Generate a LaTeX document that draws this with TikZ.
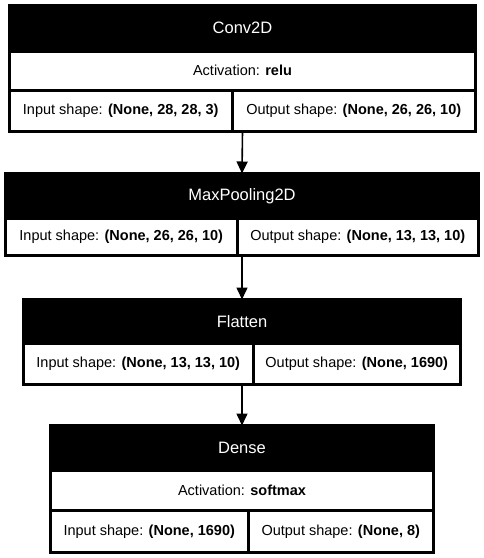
\documentclass[tikz,border=0pt]{standalone}
\usepackage{fontspec}
\setmainfont{Liberation Sans}
\usetikzlibrary{arrows.meta,positioning,fit}
\tikzset{
  head/.style={draw, fill=black, text=white, rectangle, line width=3pt, inner sep=0pt, outer sep=0pt, font=\fontsize{16.5}{19}\selectfont},
  cell/.style={draw, fill=white, rectangle, line width=3pt, inner sep=0pt, outer sep=0pt, font=\fontsize{14.5}{17}\selectfont},
  frame/.style={draw, rectangle, line width=3pt, inner sep=0pt, outer sep=0pt},
  arrow/.style={-{Triangle[length=12pt,width=11pt]}, line width=1.6pt}
}

\begin{document}
\begin{tikzpicture}[x=1pt,y=-1pt]
  \useasboundingbox[fill=white] (0,0) rectangle (484,558);

  % Conv2D
  \node[head,minimum width=466pt,minimum height=45.5pt] (convh) at (242.5,28.25) {Conv2D};
  \node[cell,minimum width=466pt,minimum height=39.5pt] (conva) at (242.5,70.75) {Activation: \textbf{relu}};
  \node[cell,minimum width=222.5pt,minimum height=41pt] (convi) at (120.75,111) {Input shape: \textbf{(None, 28, 28, 3)}};
  \node[cell,minimum width=243.5pt,minimum height=41pt] (convo) at (353.75,111) {Output shape: \textbf{(None, 26, 26, 10)}};
  \node[frame,fit=(convh)(convi)(convo)] (conv) {};

  % MaxPooling2D
  \node[head,minimum width=473pt,minimum height=44.5pt] (poolh) at (242,195.75) {MaxPooling2D};
  \node[cell,minimum width=231.5pt,minimum height=37.5pt] (pooli) at (121.25,236.75) {Input shape: \textbf{(None, 26, 26, 10)}};
  \node[cell,minimum width=241.5pt,minimum height=37.5pt] (poolo) at (357.75,236.75) {Output shape: \textbf{(None, 13, 13, 10)}};
  \node[frame,fit=(poolh)(pooli)(poolo)] (pool) {};

  % Flatten
  \node[head,minimum width=437pt,minimum height=43.5pt] (flath) at (242,321.25) {Flatten};
  \node[cell,minimum width=229.5pt,minimum height=41.5pt] (flati) at (138.25,363.75) {Input shape: \textbf{(None, 13, 13, 10)}};
  \node[cell,minimum width=207.5pt,minimum height=41.5pt] (flato) at (356.75,363.75) {Output shape: \textbf{(None, 1690)}};
  \node[frame,fit=(flath)(flati)(flato)] (flat) {};

  % Dense
  \node[head,minimum width=383pt,minimum height=44.5pt] (denseh) at (242,447.75) {Dense};
  \node[cell,minimum width=383pt,minimum height=40pt] (densea) at (242,490) {Activation: \textbf{softmax}};
  \node[cell,minimum width=197.5pt,minimum height=42.5pt] (densei) at (149.25,531.25) {Input shape: \textbf{(None, 1690)}};
  \node[cell,minimum width=185.5pt,minimum height=42.5pt] (denseo) at (340.75,531.25) {Output shape: \textbf{(None, 8)}};
  \node[frame,fit=(denseh)(densei)(denseo)] (dense) {};

  \draw[arrow] (conv.south) -- (pool.north);
  \draw[arrow] (pool.south) -- (flat.north);
  \draw[arrow] (flat.south) -- (dense.north);
\end{tikzpicture}
\end{document}
